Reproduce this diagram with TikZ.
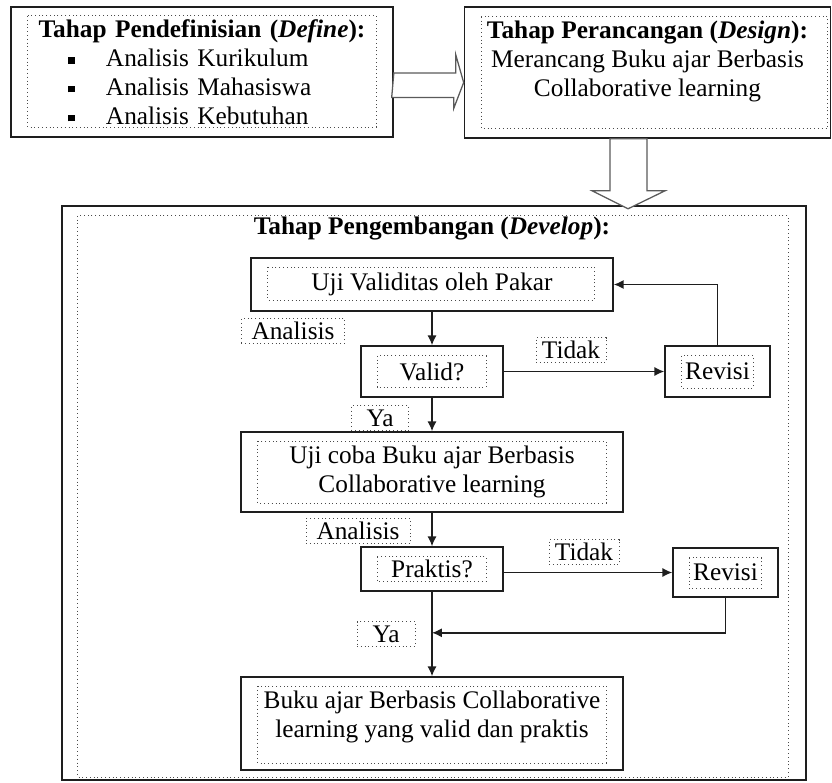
\documentclass[tikz,border=0pt]{standalone}
\usepackage{fontspec}
\setmainfont{Liberation Serif}
\usepackage{tikz}
\usetikzlibrary{arrows.meta,positioning}
\definecolor{BoxInk}{HTML}{1E1E1E}
\definecolor{DotInk}{HTML}{4A4A4A}
\definecolor{ArrowInk}{HTML}{5A5A5A}
\newcommand{\sqbullet}{\rule[0.07cm]{0.17cm}{0.17cm}}
\tikzset{
  diagram/.style={x=0.025cm,y=-0.025cm,text=black,font=\fontsize{18}{20.6}\selectfont},
  stagebox/.style={draw=BoxInk,line width=1.1pt,fill=white,align=center,inner sep=2pt},
  inframe/.style n args={4}{path picture={\draw[DotInk,dotted,line width=0.7pt]
      ([xshift=#1,yshift=-#3]path picture bounding box.north west) rectangle
      ([xshift=-#2,yshift=#4]path picture bounding box.south east);}},
  tag/.style={draw=DotInk,dotted,line width=0.7pt,inner sep=1pt,minimum height=0.625cm},
  flow/.style={-{Latex[length=7pt,width=6.5pt]},line width=1.05pt,draw=BoxInk},
  hollow/.style={draw=ArrowInk,line width=0.9pt,fill=white},
}

\begin{document}
\begin{tikzpicture}[diagram]
  \useasboundingbox (0,0) rectangle (832,782);

  \node[stagebox,minimum width=9.55cm,minimum height=3.25cm,text width=9.3cm,align=left,inner sep=0.1cm,
        inframe={12pt}{12pt}{6.4pt}{7pt}] (define) at (202,72) {%
    \makebox[\linewidth]{\textbf{Tahap Pendefinisian (\textit{Define}):}}\\
    \hspace*{1.3cm}\sqbullet\hspace{0.78cm}Analisis Kurikulum\\
    \hspace*{1.3cm}\sqbullet\hspace{0.78cm}Analisis Mahasiswa\\
    \hspace*{1.3cm}\sqbullet\hspace{0.78cm}Analisis Kebutuhan};

  \node[stagebox,minimum width=9.15cm,minimum height=3.275cm,inframe={12pt}{2pt}{7pt}{7pt}] (design) at (647.5,72.5)
    {\textbf{Tahap Perancangan (\textit{Design}):}\\Merancang Buku ajar Berbasis\\Collaborative learning\\[-0.25cm]\strut};

  \draw[hollow] ([shift={(0,1)}]define.east) -- ++(62,0) -- ++(0,-18) -- ([shift={(0,10)}]design.west)
    -- ++(-10,26) -- ++(0,-11) -- ++(-62,0) -- cycle;

  \node[stagebox,minimum width=18.6cm,minimum height=14.35cm,inframe={11.4pt}{12.8pt}{7pt}{2.1pt}] (develop) at (434,493) {};

  \draw[hollow] ([shift={(-37.5,0)}]design.south) -- ++(0,52) -- ++(-18,0) -- ++(36,18) -- ++(37,-18)
    -- ++(-18,0) -- ++(0,-52) -- cycle;

  \node (devtitle) at (432,229) {\textbf{Tahap Pengembangan (\textit{Develop}):}};

  \node[stagebox,minimum width=9.05cm,minimum height=1.325cm,inframe={12pt}{13.5pt}{6.4pt}{7.8pt}] (uji) at (432,284.5)
    {Uji Validitas oleh Pakar};
  \node[stagebox,minimum width=3.55cm,minimum height=1.275cm,inframe={11.4pt}{12pt}{7pt}{7pt}] (valid) at (432,371.5)
    {Valid?};
  \node[stagebox,minimum width=2.625cm,minimum height=1.275cm,inframe={11.4pt}{12pt}{7pt}{6.4pt}] (revisi1) at (717.5,371.5)
    {Revisi};
  \node[stagebox,minimum width=9.55cm,minimum height=2cm,inframe={12pt}{12pt}{6.4pt}{6.4pt}] (ujicoba) at (432,472)
    {Uji coba Buku ajar Berbasis\\Collaborative learning};
  \node[stagebox,minimum width=3.55cm,minimum height=1.1cm,inframe={11.4pt}{12pt}{7pt}{7pt}] (praktis) at (432,569)
    {Praktis?};
  \node[stagebox,minimum width=2.625cm,minimum height=1.225cm,inframe={11.4pt}{12pt}{7pt}{6pt}] (revisi2) at (725.5,572.5)
    {Revisi};
  \node[stagebox,minimum width=9.55cm,minimum height=2.325cm,inframe={12pt}{12pt}{6.4pt}{5pt}] (buku) at (432,723.5)
    {Buku ajar Berbasis Collaborative\\learning yang valid dan praktis\\[-0.475cm]\strut};

  \node[tag,minimum width=2.575cm] (ana1) at (293,331) {Analisis};
  \node[tag,minimum width=1.75cm] (no1) at (571,350) {Tidak};
  \node[tag,minimum width=1.425cm] (yes1) at (380,418) {Ya};
  \node[tag,minimum width=2.6cm] (ana2) at (358,531) {Analisis};
  \node[tag,minimum width=1.75cm] (no2) at (584,552) {Tidak};
  \node[tag,minimum width=1.45cm] (yes2) at (386,634) {Ya};

  \coordinate[below=1.025cm of praktis.south] (merge);

  \draw[flow] (uji.south) -- (valid.north);
  \draw[flow] (valid) -- (revisi1);
  \draw[flow] (revisi1.north) |- (uji.east);
  \draw[flow] (valid.south) -- (ujicoba.north);
  \draw[flow] (ujicoba.south) -- (praktis.north);
  \draw[flow] (praktis.east |- revisi2.west) -- (revisi2.west);
  \draw[flow] (praktis.south) -- (buku.north);
  \draw[flow] (revisi2.south) |- (merge);
\end{tikzpicture}
\end{document}
